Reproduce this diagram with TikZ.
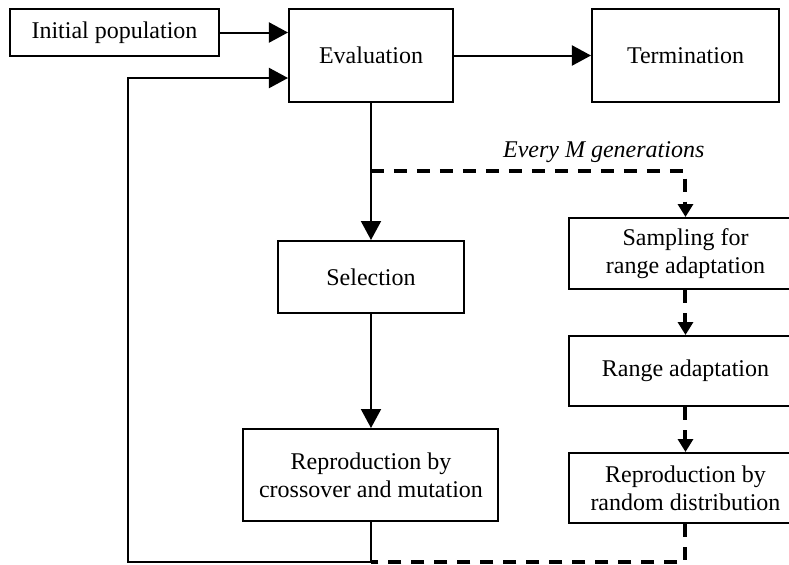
\documentclass[tikz,border=0pt]{standalone}
\usepackage{fontspec}
\setmainfont{Liberation Serif}
\usetikzlibrary{arrows.meta, positioning}

\begin{document}
\begin{tikzpicture}[
    node distance=57pt,
    box/.style={rectangle, draw, line width=1pt, inner sep=0pt, align=center, font=\fontsize{12}{14}\selectfont},
    wide/.style={box, minimum width=116pt, minimum height=35.5pt},
    line/.style={line width=1pt},
    flow/.style={line, -{Triangle[length=9.5pt, width=10pt]}},
    dline/.style={line width=2pt, dash pattern=on 6.5pt off 5pt},
    dflow/.style={dline, -{Triangle[length=6.5pt, width=7.5pt]}}
]
\useasboundingbox (-185.5pt,27.75pt) rectangle (209pt,-254.25pt);

% Nodes
\node[box, minimum width=82pt, minimum height=46.5pt] (eval) {Evaluation};
\node[box, minimum width=104.5pt, minimum height=23.5pt, anchor=north east] (init) at ([xshift=-34pt]eval.north west) {Initial population};
\node[box, minimum width=93.5pt, minimum height=46.5pt, right=68.5pt of eval] (term) {Termination};
\node[box, minimum width=93pt, minimum height=36pt, below=68.5pt of eval] (sel) {Selection};
\node[box, minimum width=127.5pt, minimum height=46pt, below=57pt of sel] (cross) {Reproduction by\\crossover and mutation};
\node[wide, below=57pt of term] (samp) {Sampling for\\range adaptation};
\node[wide, minimum height=35pt, below=22.5pt of samp] (range) {Range adaptation};
\node[wide, minimum height=35pt, below=22.5pt of range] (rand) {Reproduction by\\random distribution};

% Junctions
\coordinate[below=34pt of eval] (split);
\coordinate[below=20pt of cross] (join);
\coordinate (back) at (-121.5pt,0);

% Connections
\draw[flow] (init) -- (init -| eval.west);
\draw[flow] (eval) -- (term);
\draw[flow] (eval) -- (sel);
\draw[flow] (sel) -- (cross);
\draw[flow] (cross) -- (join) -- (join -| back) |- ([yshift=-11.25pt]eval.west);
\draw[dflow] (split) -| (samp) node[pos=0.37, above, font=\fontsize{12}{14}\selectfont\itshape] (every) {Every M generations};
\draw[dflow] (samp) -- (range);
\draw[dflow] (range) -- (rand);
\draw[dline] (rand) |- (join);

\end{tikzpicture}
\end{document}
